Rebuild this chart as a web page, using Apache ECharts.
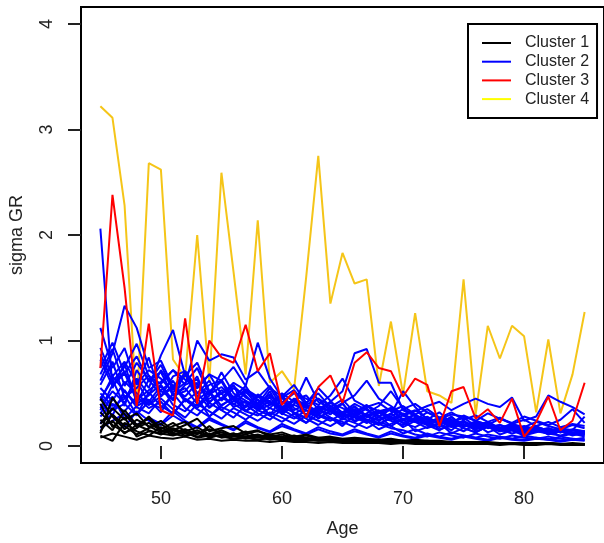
<!DOCTYPE html>
<html>
<head>
<meta charset="utf-8">
<script src="https://cdn.jsdelivr.net/npm/echarts@6/dist/echarts.min.js"></script>
<style>
  html, body { margin: 0; padding: 0; background: #fff; }
  #chart { width: 604px; height: 543px; }
</style>
</head>
<body>
<div id="chart"></div>
<script>
const ages = [45,46,47,48,49,50,51,52,53,54,55,56,57,58,59,60,61,62,63,64,65,66,67,68,69,70,71,72,73,74,75,76,77,78,79,80,81,82,83,84,85];
const xTicks = [50, 60, 70, 80];
const yTicks = [0, 1, 2, 3, 4];
const clusterNames = ['Cluster 1', 'Cluster 2', 'Cluster 3', 'Cluster 4'];

// Cluster 1 (black)
const cluster1 = [
  [0.12,0.46,0.30,0.18,0.22,0.15,0.11,0.14,0.09,0.12,0.08,0.10,0.07,0.09,0.06,0.08,0.06,0.07,0.05,0.06,0.05,0.05,0.04,0.05,0.04,0.04,0.04,0.03,0.04,0.03,0.03,0.03,0.03,0.02,0.03,0.02,0.02,0.03,0.02,0.02,0.02],
  [0.45,0.28,0.16,0.25,0.19,0.13,0.17,0.12,0.15,0.10,0.13,0.09,0.11,0.08,0.10,0.07,0.08,0.07,0.06,0.07,0.05,0.06,0.05,0.05,0.04,0.05,0.04,0.04,0.03,0.04,0.03,0.03,0.03,0.03,0.02,0.03,0.02,0.02,0.02,0.02,0.02],
  [0.10,0.05,0.22,0.14,0.10,0.18,0.12,0.09,0.13,0.08,0.11,0.07,0.09,0.06,0.08,0.06,0.07,0.05,0.06,0.05,0.05,0.04,0.05,0.04,0.04,0.03,0.04,0.03,0.03,0.03,0.03,0.02,0.03,0.02,0.02,0.02,0.02,0.02,0.02,0.01,0.02],
  [0.18,0.24,0.12,0.20,0.15,0.11,0.16,0.10,0.13,0.09,0.10,0.12,0.08,0.10,0.07,0.08,0.07,0.06,0.07,0.05,0.06,0.05,0.05,0.04,0.05,0.04,0.04,0.04,0.03,0.04,0.03,0.03,0.03,0.02,0.03,0.02,0.03,0.02,0.02,0.02,0.02],
  [0.25,0.15,0.34,0.20,0.26,0.14,0.19,0.23,0.12,0.16,0.13,0.10,0.14,0.09,0.11,0.08,0.10,0.07,0.08,0.07,0.06,0.07,0.05,0.06,0.05,0.05,0.04,0.05,0.04,0.04,0.03,0.04,0.03,0.03,0.03,0.03,0.02,0.03,0.02,0.02,0.02],
  [0.14,0.30,0.19,0.11,0.17,0.21,0.13,0.16,0.11,0.19,0.10,0.12,0.09,0.11,0.08,0.09,0.07,0.08,0.06,0.07,0.06,0.06,0.05,0.05,0.05,0.04,0.04,0.04,0.04,0.03,0.03,0.03,0.03,0.03,0.02,0.02,0.02,0.02,0.02,0.02,0.01],
  [0.32,0.20,0.13,0.17,0.28,0.16,0.22,0.14,0.18,0.11,0.15,0.10,0.13,0.15,0.09,0.11,0.08,0.10,0.07,0.08,0.06,0.07,0.06,0.06,0.05,0.05,0.05,0.04,0.04,0.04,0.03,0.04,0.03,0.03,0.03,0.02,0.03,0.02,0.02,0.02,0.02],
  [0.08,0.12,0.09,0.06,0.10,0.08,0.07,0.09,0.06,0.07,0.05,0.06,0.05,0.05,0.04,0.05,0.04,0.04,0.03,0.04,0.03,0.03,0.03,0.03,0.02,0.03,0.02,0.02,0.02,0.02,0.02,0.02,0.02,0.01,0.02,0.01,0.01,0.02,0.01,0.01,0.01],
  [0.21,0.36,0.25,0.31,0.18,0.24,0.15,0.20,0.26,0.14,0.17,0.19,0.12,0.14,0.11,0.13,0.09,0.11,0.08,0.09,0.07,0.08,0.07,0.06,0.07,0.05,0.06,0.05,0.05,0.04,0.04,0.04,0.04,0.03,0.03,0.03,0.03,0.03,0.02,0.03,0.02],
  [0.40,0.18,0.27,0.09,0.14,0.12,0.10,0.13,0.08,0.10,0.09,0.07,0.08,0.06,0.08,0.06,0.05,0.06,0.05,0.05,0.04,0.05,0.04,0.04,0.04,0.03,0.03,0.03,0.03,0.03,0.02,0.03,0.02,0.02,0.02,0.02,0.02,0.02,0.02,0.02,0.01]
];

// Cluster 2 (blue)
const cluster2 = [
  [2.06,0.55,0.78,0.41,0.63,0.70,0.48,0.52,0.66,0.37,0.45,0.58,0.33,0.40,0.29,0.46,0.31,0.22,0.35,0.27,0.19,0.30,0.24,0.16,0.21,0.26,0.14,0.18,0.22,0.12,0.17,0.13,0.19,0.11,0.15,0.10,0.13,0.16,0.09,0.12,0.10],
  [0.62,0.88,1.33,1.12,0.74,0.81,0.56,0.69,0.47,0.58,0.62,0.39,0.51,0.44,0.36,0.48,0.30,0.38,0.26,0.34,0.41,0.23,0.29,0.21,0.27,0.18,0.24,0.20,0.15,0.22,0.17,0.13,0.19,0.14,0.16,0.11,0.18,0.12,0.14,0.10,0.13],
  [1.12,0.74,0.93,0.58,0.84,0.47,0.66,0.71,0.50,0.62,0.43,0.55,0.48,0.36,0.52,0.31,0.44,0.29,0.37,0.33,0.25,0.31,0.22,0.28,0.19,0.26,0.23,0.17,0.21,0.15,0.24,0.14,0.18,0.16,0.12,0.15,0.17,0.11,0.14,0.12,0.09],
  [0.45,0.63,0.38,0.72,0.55,0.86,1.10,0.67,0.79,0.52,0.61,0.46,0.57,0.40,0.49,0.35,0.43,0.38,0.30,0.36,0.28,0.33,0.25,0.20,0.27,0.22,0.18,0.24,0.16,0.19,0.14,0.21,0.13,0.17,0.15,0.11,0.14,0.12,0.10,0.13,0.11],
  [0.82,0.57,0.69,0.44,0.53,0.61,0.72,0.58,1.00,0.81,0.87,0.84,0.63,0.71,0.55,0.47,0.58,0.41,0.50,0.37,0.44,0.32,0.39,0.28,0.35,0.24,0.30,0.21,0.26,0.19,0.23,0.17,0.20,0.15,0.18,0.14,0.16,0.12,0.15,0.11,0.13],
  [0.36,0.52,0.41,0.64,0.49,0.58,0.43,0.71,0.55,0.68,0.62,0.75,0.57,0.98,0.64,0.46,0.53,0.39,0.45,0.33,0.40,0.28,0.36,0.25,0.31,0.22,0.27,0.20,0.24,0.18,0.21,0.16,0.19,0.14,0.17,0.13,0.15,0.12,0.14,0.11,0.12],
  [0.28,0.40,0.33,0.47,0.36,0.42,0.30,0.45,0.38,0.51,0.34,0.43,0.37,0.48,0.41,0.35,0.44,0.38,0.31,0.42,0.52,0.88,0.92,0.60,0.60,0.34,0.29,0.25,0.32,0.22,0.27,0.19,0.23,0.17,0.21,0.15,0.19,0.14,0.16,0.12,0.14],
  [0.55,0.43,0.61,0.50,0.39,0.47,0.58,0.42,0.51,0.36,0.46,0.40,0.33,0.44,0.29,0.37,0.32,0.27,0.35,0.30,0.41,0.48,0.62,0.45,0.38,0.30,0.34,0.26,0.21,0.28,0.18,0.23,0.20,0.16,0.19,0.14,0.17,0.13,0.15,0.11,0.12],
  [0.31,0.47,0.26,0.38,0.44,0.32,0.50,0.36,0.29,0.41,0.34,0.27,0.39,0.31,0.25,0.35,0.28,0.22,0.30,0.26,0.21,0.28,0.24,0.31,0.36,0.29,0.33,0.38,0.42,0.34,0.40,0.45,0.40,0.37,0.46,0.24,0.28,0.48,0.42,0.37,0.30],
  [0.68,0.92,0.57,0.79,0.63,0.48,0.55,0.69,0.44,0.52,0.38,0.47,0.41,0.35,0.43,0.30,0.39,0.34,0.27,0.33,0.29,0.24,0.31,0.38,0.52,0.36,0.28,0.23,0.26,0.20,0.24,0.18,0.21,0.16,0.19,0.15,0.17,0.13,0.15,0.12,0.11],
  [0.21,0.35,0.48,0.30,0.42,0.57,0.39,0.33,0.46,0.28,0.37,0.32,0.25,0.34,0.29,0.23,0.31,0.26,0.20,0.27,0.23,0.18,0.25,0.21,0.17,0.15,0.11,0.09,0.13,0.10,0.08,0.12,0.09,0.07,0.10,0.08,0.07,0.09,0.07,0.06,0.08],
  [0.93,0.66,0.80,0.59,0.72,0.64,0.51,0.60,0.74,0.49,0.56,0.45,0.52,0.38,0.47,0.42,0.34,0.40,0.55,0.43,0.31,0.37,0.29,0.34,0.26,0.31,0.23,0.28,0.21,0.25,0.19,0.22,0.18,0.20,0.16,0.18,0.15,0.17,0.13,0.15,0.14],
  [0.40,0.29,0.53,0.37,0.31,0.45,0.35,0.27,0.40,0.33,0.26,0.36,0.30,0.24,0.32,0.27,0.21,0.29,0.24,0.19,0.26,0.22,0.17,0.23,0.19,0.12,0.16,0.11,0.09,0.13,0.10,0.08,0.11,0.09,0.07,0.10,0.08,0.06,0.09,0.07,0.06],
  [0.74,0.98,0.69,0.85,0.61,0.77,0.53,0.67,0.58,0.49,0.63,0.44,0.54,0.47,0.39,0.50,0.42,0.36,0.45,0.38,0.32,0.40,0.34,0.28,0.36,0.30,0.25,0.32,0.27,0.22,0.29,0.24,0.20,0.26,0.21,0.18,0.23,0.19,0.16,0.20,0.17],
  [0.50,0.38,0.45,0.62,0.41,0.36,0.49,0.55,0.40,0.45,0.50,0.37,0.42,0.34,0.39,0.48,0.36,0.30,0.38,0.33,0.27,0.34,0.29,0.24,0.30,0.52,0.37,0.25,0.22,0.27,0.20,0.23,0.19,0.17,0.21,0.16,0.18,0.15,0.13,0.16,0.14],
  [0.22,0.30,0.18,0.33,0.24,0.20,0.29,0.22,0.17,0.25,0.20,0.15,0.22,0.17,0.13,0.19,0.15,0.11,0.16,0.12,0.10,0.14,0.11,0.08,0.12,0.09,0.07,0.10,0.08,0.06,0.09,0.07,0.05,0.08,0.06,0.05,0.07,0.06,0.04,0.06,0.05],
  [0.58,0.80,0.46,0.55,0.67,0.52,0.45,0.58,0.63,0.42,0.50,0.57,0.46,0.40,0.55,0.37,0.44,0.48,0.35,0.42,0.30,0.38,0.27,0.33,0.36,0.25,0.30,0.22,0.27,0.24,0.19,0.23,0.21,0.17,0.20,0.16,0.18,0.15,0.17,0.13,0.14],
  [0.34,0.58,0.71,0.46,0.39,0.53,0.62,0.44,0.36,0.48,0.70,0.50,0.43,0.37,0.46,0.33,0.40,0.65,0.42,0.36,0.30,0.35,0.28,0.32,0.25,0.29,0.23,0.27,0.21,0.24,0.19,0.22,0.17,0.20,0.16,0.18,0.14,0.17,0.13,0.15,0.12],
  [0.47,0.34,0.40,0.29,0.51,0.38,0.31,0.44,0.35,0.28,0.39,0.45,0.33,0.29,0.36,0.31,0.26,0.34,0.29,0.24,0.31,0.27,0.22,0.28,0.24,0.20,0.26,0.22,0.18,0.23,0.20,0.16,0.21,0.18,0.15,0.19,0.16,0.14,0.17,0.15,0.28],
  [0.17,0.24,0.31,0.20,0.27,0.21,0.33,0.24,0.18,0.27,0.21,0.16,0.24,0.18,0.14,0.21,0.16,0.12,0.18,0.14,0.11,0.16,0.12,0.09,0.14,0.10,0.08,0.12,0.09,0.07,0.10,0.08,0.06,0.09,0.07,0.06,0.08,0.07,0.05,0.07,0.06],
  [0.87,0.61,0.75,0.97,0.66,0.59,0.72,0.63,0.55,0.68,0.49,0.60,0.53,0.46,0.57,0.41,0.50,0.45,0.39,0.48,0.64,0.43,0.37,0.41,0.33,0.38,0.30,0.35,0.27,0.32,0.25,0.29,0.23,0.27,0.21,0.25,0.19,0.23,0.18,0.21,0.19],
  [0.43,0.66,0.52,0.40,0.48,0.72,0.55,0.47,0.60,0.41,0.53,0.46,0.37,0.49,0.42,0.35,0.45,0.39,0.33,0.41,0.36,0.30,0.38,0.33,0.28,0.35,0.40,0.32,0.26,0.30,0.28,0.24,0.31,0.26,0.22,0.28,0.24,0.20,0.25,0.35,0.22]
];

// Cluster 3 (red)
const cluster3 = [
  [0.74,2.38,1.50,0.38,1.16,0.34,0.29,1.21,0.40,1.00,0.84,0.79,1.15,0.71,0.88,0.39,0.52,0.27,0.56,0.67,0.41,0.79,0.89,0.74,0.71,0.47,0.64,0.58,0.19,0.52,0.56,0.26,0.35,0.22,0.45,0.09,0.23,0.47,0.15,0.24,0.60]
];

// Cluster 4 (yellow)
const cluster4 = [
  [3.22,3.11,2.28,0.35,2.68,2.62,0.82,0.65,2.00,0.60,2.59,1.65,0.68,2.14,0.60,0.71,0.54,1.60,2.75,1.35,1.83,1.54,1.58,0.57,1.18,0.49,1.26,0.52,0.48,0.41,1.58,0.30,1.14,0.83,1.14,1.04,0.32,1.01,0.31,0.68,1.27]
];

const lineColors = ['#000000', '#0000ff', '#ff0000', '#f5c518'];
const legendColors = ['#000000', '#0000ff', '#ff0000', '#ffff00'];
const fontFam = 'Liberation Sans, Arial, sans-serif';

const makeSeries = (rows, idx) => rows.map(vals => ({
  name: clusterNames[idx],
  type: 'line',
  data: ages.map((a, i) => [a, vals[i]]),
  symbol: 'none',
  silent: true,
  lineStyle: { color: lineColors[idx], width: 2 },
  itemStyle: { color: lineColors[idx] }
}));

// draw order: yellow, blue, black, red on top
const series = [].concat(
  makeSeries(cluster4, 3),
  makeSeries(cluster2, 1),
  makeSeries(cluster1, 0),
  makeSeries(cluster3, 2)
);

const chart = echarts.init(document.getElementById('chart'));
chart.setOption({
  animation: false,
  backgroundColor: '#fff',
  grid: {
    left: 81, top: 7, right: -7, bottom: 78,
    show: true, borderColor: '#000', borderWidth: 2
  },
  legend: {
    orient: 'vertical',
    left: 468, top: 24,
    padding: [11, 8, 11, 14],
    icon: 'rect',
    itemWidth: 29, itemHeight: 2, itemGap: 2.7,
    borderColor: '#000', borderWidth: 2,
    backgroundColor: '#fff',
    selectedMode: false,
    textStyle: { fontSize: 16, color: '#222', fontFamily: fontFam, padding: [0, 0, 0, 9], lineHeight: 16 },
    data: clusterNames.map((n, i) => ({
      name: n,
      itemStyle: { color: legendColors[i] }
    }))
  },
  xAxis: {
    type: 'value',
    min: 43.4, max: 86.6,
    name: 'Age',
    nameLocation: 'middle',
    nameGap: 57,
    nameTextStyle: { fontSize: 18, color: '#222', fontFamily: fontFam },
    axisLine: { show: false },
    splitLine: { show: false },
    axisTick: { show: true, customValues: xTicks, length: 13, lineStyle: { color: '#222', width: 2 } },
    axisLabel: { customValues: xTicks, fontSize: 18, color: '#222', fontFamily: fontFam, margin: 27 }
  },
  yAxis: {
    type: 'value',
    min: -0.16, max: 4.16,
    name: 'sigma GR',
    nameLocation: 'middle',
    nameGap: 55,
    nameTextStyle: { fontSize: 18, color: '#222', fontFamily: fontFam },
    axisLine: { show: false },
    splitLine: { show: false },
    axisTick: { show: true, customValues: yTicks, length: 13, lineStyle: { color: '#222', width: 2 } },
    axisLabel: { customValues: yTicks, rotate: 90, fontSize: 18, color: '#222', fontFamily: fontFam, margin: 25 }
  },
  series: series
});
</script>
</body>
</html>
